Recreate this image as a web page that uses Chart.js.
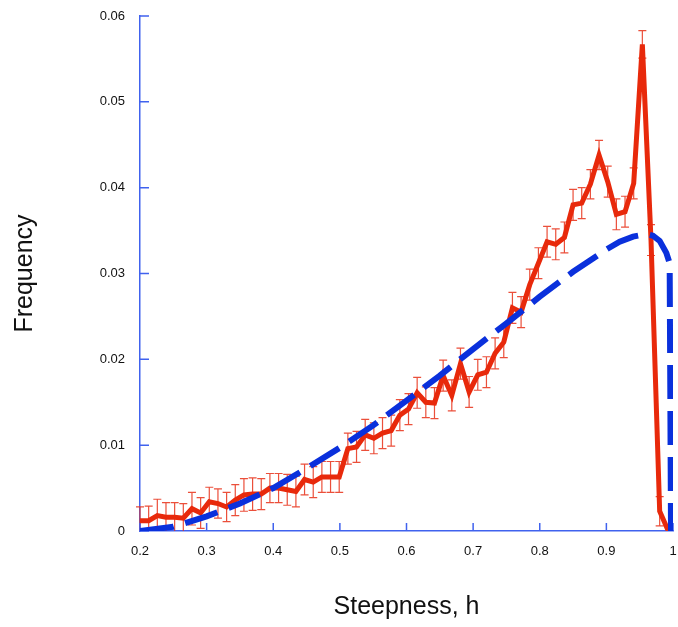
<!DOCTYPE html>
<html>
<head>
<meta charset="utf-8">
<script src="https://cdn.jsdelivr.net/npm/chart.js@4.4.1/dist/chart.umd.min.js"></script>
<style>
  html, body { margin: 0; padding: 0; background: #fff; }
  #wrap { width: 678px; height: 627px; }
</style>
</head>
<body>
<div id="wrap"><canvas id="c" width="678" height="627"></canvas></div>
<script>
// observed histogram (red) with error bars
const steepness = [
  0.200, 0.213, 0.226, 0.239, 0.252, 0.265, 0.278, 0.291, 0.304, 0.317,
  0.330, 0.343, 0.356, 0.369, 0.382, 0.395, 0.408, 0.421, 0.434, 0.447,
  0.460, 0.473, 0.486, 0.499, 0.512, 0.525, 0.538, 0.551, 0.564, 0.577,
  0.590, 0.603, 0.616, 0.629, 0.642, 0.655, 0.668, 0.681, 0.694, 0.707,
  0.720, 0.733, 0.746, 0.759, 0.772, 0.785, 0.798, 0.811, 0.824, 0.837,
  0.850, 0.863, 0.876, 0.889, 0.902, 0.915, 0.928, 0.941, 0.954, 0.967,
  0.980, 0.993
];
const freqObserved = [
  0.0012, 0.0012, 0.0018, 0.0016, 0.0016, 0.0015, 0.0026, 0.0021, 0.0034, 0.0032,
  0.0028, 0.0036, 0.0042, 0.0043, 0.0043, 0.0050, 0.0050, 0.0048, 0.0046, 0.0060,
  0.0057, 0.0063, 0.0063, 0.0063, 0.0096, 0.0098, 0.0112, 0.0108, 0.0114, 0.0117,
  0.0135, 0.0142, 0.0161, 0.0150, 0.0149, 0.0181, 0.0158, 0.0195, 0.0162, 0.0182,
  0.0185, 0.0207, 0.0220, 0.0260, 0.0255, 0.0287, 0.0312, 0.0337, 0.0334, 0.0342,
  0.0380, 0.0382, 0.0404, 0.0438, 0.0407, 0.0369, 0.0372, 0.0405, 0.0567, 0.0339,
  0.0023, 0.0000
];
const freqError = [
  0.0016, 0.0017, 0.0019, 0.0017, 0.0017, 0.0017, 0.0019, 0.0018, 0.0017, 0.0017,
  0.0017, 0.0018, 0.0019, 0.0019, 0.0018, 0.0017, 0.0017, 0.0018, 0.0018, 0.0018,
  0.0018, 0.0018, 0.0018, 0.0018, 0.0018, 0.0018, 0.0018, 0.0018, 0.0018, 0.0018,
  0.0018, 0.0018, 0.0018, 0.0018, 0.0018, 0.0018, 0.0018, 0.0018, 0.0018, 0.0018,
  0.0018, 0.0018, 0.0018, 0.0018, 0.0018, 0.0018, 0.0018, 0.0018, 0.0018, 0.0018,
  0.0018, 0.0018, 0.0017, 0.0017, 0.0018, 0.0018, 0.0018, 0.0018, 0.0016, 0.0018,
  0.0017, 0.0006
];

// model curve (blue dashed)
const modelH    = [0.20, 0.25, 0.30, 0.35, 0.40, 0.45, 0.50, 0.55, 0.60, 0.65, 0.70, 0.75, 0.80, 0.85, 0.90, 0.92, 0.94, 0.96, 0.97, 0.98, 0.99, 0.995, 0.997];
const modelFreq = [0.0000, 0.0005, 0.0017, 0.0032, 0.0050, 0.0073, 0.0097, 0.0123, 0.0152, 0.0181, 0.0212, 0.0242, 0.0273, 0.0302, 0.0328, 0.0337, 0.0343, 0.0346, 0.0344, 0.0338, 0.0324, 0.0312, 0.0000];

const axisColor = '#4062ee';
const family = '"Liberation Sans", Arial, Helvetica, sans-serif';

const errorBars = {
  id: 'errorBars',
  beforeDatasetsDraw(chart) {
    const { ctx, chartArea: a, scales: { x, y } } = chart;
    ctx.save();
    ctx.beginPath(); ctx.rect(0, 0, chart.width, a.bottom); ctx.clip();
    ctx.strokeStyle = 'rgba(232,48,24,0.85)';
    ctx.lineWidth = 1.2;
    steepness.forEach((h, i) => {
      const px = x.getPixelForValue(h);
      const hi = y.getPixelForValue(freqObserved[i] + freqError[i]);
      const lo = y.getPixelForValue(freqObserved[i] - freqError[i]);
      ctx.beginPath();
      ctx.moveTo(px, hi); ctx.lineTo(px, lo);
      ctx.moveTo(px - 4, hi); ctx.lineTo(px + 4, hi);
      ctx.moveTo(px - 4, lo); ctx.lineTo(px + 4, lo);
      ctx.stroke();
    });
    ctx.restore();
  }
};

// tick marks point into the plot
const innerTicks = {
  id: 'innerTicks',
  beforeDatasetsDraw(chart) {
    const { ctx, chartArea: a, scales: { x, y } } = chart;
    ctx.save();
    ctx.strokeStyle = axisColor; ctx.lineWidth = 1.5;
    ctx.beginPath();
    x.ticks.forEach(t => { const p = x.getPixelForValue(t.value); ctx.moveTo(p, a.bottom); ctx.lineTo(p, a.bottom - 8); });
    y.ticks.forEach(t => { const p = y.getPixelForValue(t.value); ctx.moveTo(a.left, p); ctx.lineTo(a.left + 9, p); });
    ctx.stroke();
    ctx.restore();
  }
};

new Chart(document.getElementById('c'), {
  type: 'line',
  data: {
    datasets: [
      {
        label: 'model',
        data: modelH.map((h, i) => ({ x: h, y: modelFreq[i] })),
        borderColor: '#0a30dc', borderWidth: 6, borderDash: [34, 12],
        tension: 0, pointRadius: 0, fill: false, order: 0
      },
      {
        label: 'observed',
        data: steepness.map((h, i) => ({ x: h, y: freqObserved[i] })),
        borderColor: '#e8290b', borderWidth: 5, tension: 0,
        pointRadius: 0, fill: false, order: 1
      }
    ]
  },
  options: {
    responsive: false, animation: false,
    layout: { padding: { top: 16, right: 5, bottom: 0, left: 0 } },
    plugins: { legend: { display: false }, tooltip: { enabled: false } },
    scales: {
      x: {
        type: 'linear', min: 0.2, max: 1,
        afterFit(s) { s.height = 96; s.paddingLeft = 0; s.paddingRight = 0; },
        grid: { display: false, drawTicks: false },
        border: { display: true, color: axisColor, width: 1.5 },
        ticks: { stepSize: 0.1, padding: 13, color: '#111', autoSkip: false, maxRotation: 0,
                 font: { size: 13, family }, callback: v => String(+v.toFixed(1)) },
        title: { display: true, text: 'Steepness, h', color: '#111',
                 font: { size: 25, family }, padding: { top: 0, bottom: 5 } }
      },
      y: {
        min: 0, max: 0.06,
        afterFit(s) { s.width = 140; s.paddingTop = 0; s.paddingBottom = 0; },
        grid: { display: false, drawTicks: false },
        border: { display: true, color: axisColor, width: 1.5 },
        ticks: { stepSize: 0.01, padding: 15, color: '#111',
                 font: { size: 13, family }, callback: v => String(+v.toFixed(2)) },
        title: { display: true, text: 'Frequency', color: '#111',
                 font: { size: 25, family }, padding: { top: 10, bottom: 0 } }
      }
    }
  },
  plugins: [errorBars, innerTicks]
});
</script>
</body>
</html>
